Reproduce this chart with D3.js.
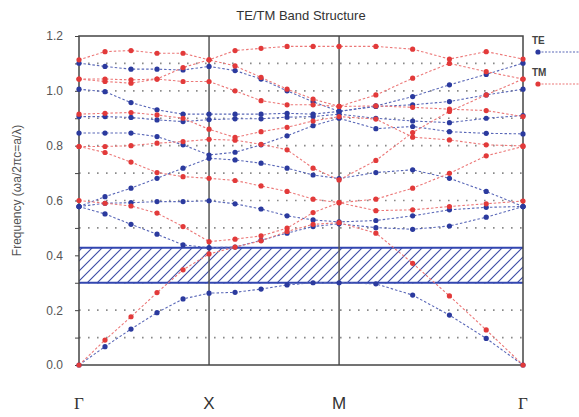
<!DOCTYPE html>
<html><head><meta charset="utf-8">
<script src="https://cdn.jsdelivr.net/npm/d3@7"></script>
<style>body{margin:0;background:#fff}svg{display:block}</style>
</head><body>
<svg id="c" width="579" height="417"></svg>
<script>
// k-point labels along the path
const kLabels = ["Γ","X","M","Γ"];
const kPathDist = [0, 1, 2, 2 + Math.SQRT2];
const pointsPerSegment = 5;
const yTicks = [0,0.1,0.2,0.3,0.4,0.5,0.6,0.7,0.8,0.9,1.0,1.1,1.2];
const gridLevels = [0.1,0.2,0.3,0.4,0.5,0.6,0.7,0.8,0.9,1.0,1.1];
const gapLow = 0.30, gapHigh = 0.428;

// TE bands (16 k-points: Γ..X..M..Γ)
const TE1 = [0,0.067,0.131,0.191,0.241,0.262,0.265,0.277,0.292,0.300,0.300,0.296,0.255,0.182,0.097,0];
const TE2 = [0.578,0.551,0.513,0.477,0.438,0.428,0.430,0.455,0.481,0.505,0.515,0.501,0.495,0.507,0.539,0.578];
const TE3 = [0.578,0.590,0.592,0.596,0.596,0.599,0.588,0.569,0.544,0.529,0.522,0.527,0.544,0.566,0.575,0.578];
const TE4 = [0.578,0.614,0.645,0.681,0.718,0.754,0.748,0.736,0.718,0.693,0.680,0.702,0.712,0.681,0.633,0.578];
const TE5 = [0.846,0.846,0.846,0.833,0.803,0.766,0.776,0.803,0.836,0.873,0.900,0.862,0.870,0.851,0.845,0.843];
const TE6 = [0.906,0.906,0.903,0.894,0.888,0.895,0.898,0.898,0.904,0.906,0.915,0.900,0.890,0.884,0.900,0.910];
const TE7 = [1.006,0.997,0.957,0.931,0.915,0.915,0.915,0.915,0.918,0.915,0.925,0.943,0.949,0.961,0.985,1.006];
const TE8 = [1.101,1.089,1.079,1.079,1.076,1.089,1.074,1.043,1.000,0.960,0.925,0.945,0.979,1.022,1.060,1.101];
// TM bands
const TM1 = [0,0.091,0.176,0.264,0.347,0.405,0.430,0.453,0.487,0.513,0.519,0.481,0.371,0.252,0.128,0];
const TM2 = [0.600,0.590,0.580,0.554,0.505,0.450,0.459,0.471,0.499,0.556,0.592,0.563,0.566,0.578,0.588,0.598];
const TM3 = [0.797,0.775,0.740,0.702,0.687,0.681,0.673,0.653,0.633,0.605,0.592,0.605,0.645,0.699,0.763,0.797];
const TM4 = [0.797,0.797,0.800,0.809,0.815,0.823,0.820,0.805,0.785,0.718,0.675,0.746,0.848,0.925,0.985,1.043];
const TM5 = [0.915,0.918,0.921,0.912,0.900,0.860,0.830,0.851,0.867,0.890,0.906,0.897,0.831,0.821,0.803,0.799];
const TM6 = [1.043,1.034,1.028,1.043,1.034,1.034,1.000,0.964,0.949,0.949,0.943,0.945,0.940,0.933,0.928,0.906];
const TM7 = [1.043,1.043,1.040,1.043,1.085,1.113,1.091,1.049,1.006,0.970,0.943,0.985,1.046,1.100,1.070,1.043];
const TM8 = [1.113,1.143,1.147,1.137,1.137,1.113,1.147,1.155,1.162,1.162,1.162,1.162,1.152,1.116,1.143,1.116];

const TEbands = [TE1,TE2,TE3,TE4,TE5,TE6,TE7,TE8];
const TMbands = [TM1,TM2,TM3,TM4,TM5,TM6,TM7,TM8];

const blue = "#2b3a9e", blueLine = "#5a68b8";
const red = "#e23a3a", redLine = "#ec7878";

const svg = d3.select("#c");
const W = 579, H = 417;
const m = {l:79, r:56, t:36, b:52};
const x = d3.scaleLinear().domain([0, kPathDist[3]]).range([m.l, W - m.r]);
const y = d3.scaleLinear().domain([0, 1.2]).range([H - m.b, m.t]);

function kOf(i){
  const seg = Math.min(Math.floor(i / pointsPerSegment), 2);
  const f = (i - seg * pointsPerSegment) / pointsPerSegment;
  return kPathDist[seg] + f * (kPathDist[seg+1] - kPathDist[seg]);
}

// hatch pattern
const defs = svg.append("defs");
const pat = defs.append("pattern").attr("id","hatch").attr("patternUnits","userSpaceOnUse")
  .attr("width",10).attr("height",10);
pat.append("rect").attr("width",10).attr("height",10).attr("fill","#fff");
pat.append("path").attr("d","M-1,1 l2,-2 M0,10 l10,-10 M9,11 l2,-2")
  .attr("stroke","#3b4aa6").attr("stroke-width",1.1);

// title
svg.append("text").attr("x", (x.range()[0]+x.range()[1])/2).attr("y", 20)
  .attr("text-anchor","middle").attr("font-family","Liberation Sans, Arial, sans-serif")
  .attr("font-size",13).attr("fill","#333").text("TE/TM Band Structure");

// grid
svg.append("g").selectAll("line").data(gridLevels).join("line")
  .attr("x1", x.range()[0]).attr("x2", x.range()[1])
  .attr("y1", d=>y(d)).attr("y2", d=>y(d))
  .attr("stroke","#8a8a8a").attr("stroke-width",1.6).attr("stroke-dasharray","1.6,7.4");

// band gap
svg.append("rect").attr("x", x.range()[0]).attr("width", x.range()[1]-x.range()[0])
  .attr("y", y(gapHigh)).attr("height", y(gapLow)-y(gapHigh)).attr("fill","url(#hatch)");
svg.append("g").selectAll("line").data([gapLow,gapHigh]).join("line")
  .attr("x1", x.range()[0]).attr("x2", x.range()[1])
  .attr("y1", d=>y(d)).attr("y2", d=>y(d))
  .attr("stroke","#3246b0").attr("stroke-width",2);

// symmetry point vertical lines
svg.append("g").selectAll("line").data(kPathDist.slice(1,3)).join("line")
  .attr("x1", d=>x(d)).attr("x2", d=>x(d)).attr("y1", y(0)).attr("y2", y(1.2))
  .attr("stroke","#555").attr("stroke-width",1.5);

// frame
svg.append("rect").attr("x", x.range()[0]).attr("y", y(1.2))
  .attr("width", x.range()[1]-x.range()[0]).attr("height", y(0)-y(1.2))
  .attr("fill","none").attr("stroke","#444").attr("stroke-width",1.5);

// y axis
const ya = svg.append("g").attr("transform",`translate(${x.range()[0]},0)`)
  .call(d3.axisLeft(y).tickValues(yTicks).tickSize(4).tickPadding(12)
    .tickFormat(d => (Math.round(d*10) % 2 === 0) ? d3.format(".1f")(d) : ""));
ya.select(".domain").remove();
ya.selectAll("line").attr("stroke","#444");
ya.selectAll("text").attr("font-family","Liberation Sans, Arial, sans-serif")
  .attr("font-size",12).attr("fill","#555");

svg.append("text").attr("transform",`translate(21,${(y(0)+y(1.2))/2 - 10}) rotate(-90)`)
  .attr("text-anchor","middle").attr("font-family","Liberation Sans, Arial, sans-serif")
  .attr("font-size",12).attr("fill","#555").text("Frequency (ωa/2πc=a/λ)");

// x labels
svg.append("g").selectAll("text").data(kLabels).join("text")
  .attr("x",(d,i)=>x(kPathDist[i])).attr("y", 409).attr("text-anchor","middle")
  .attr("font-family", d => d==="Γ" ? "Liberation Serif, serif" : "Liberation Sans, Arial, sans-serif")
  .attr("font-size",17).attr("fill","#333").text(d=>d);

// bands
const line = d3.line().x((d,i)=>x(kOf(i))).y(d=>y(d));
function drawBands(bands, lc, pc){
  const g = svg.append("g");
  g.selectAll("path").data(bands).join("path").attr("d", line)
    .attr("fill","none").attr("stroke",lc).attr("stroke-width",1.1).attr("stroke-dasharray","2.5,2");
  bands.forEach(b=>{
    g.append("g").selectAll("circle").data(b).join("circle")
      .attr("cx",(d,i)=>x(kOf(i))).attr("cy",d=>y(d)).attr("r",2.6).attr("fill",pc);
  });
}
drawBands(TEbands, blueLine, blue);
drawBands(TMbands, redLine, red);

// legend
const leg = [{name:"TE", c:blue, lc:blueLine},{name:"TM", c:red, lc:redLine}];
const lg = svg.append("g");
leg.forEach((d,i)=>{
  const yy = 44 + i*32;
  lg.append("text").attr("x",532).attr("y",yy).attr("font-family","Liberation Sans, Arial, sans-serif")
    .attr("font-size",10).attr("font-weight","bold").attr("fill","#444").text(d.name);
  lg.append("line").attr("x1",538).attr("x2",579).attr("y1",yy+8).attr("y2",yy+8)
    .attr("stroke",d.lc).attr("stroke-width",1.1).attr("stroke-dasharray","2,1.5");
  lg.append("circle").attr("cx",538).attr("cy",yy+8).attr("r",2.6).attr("fill",d.c);
});
</script>
</body></html>
